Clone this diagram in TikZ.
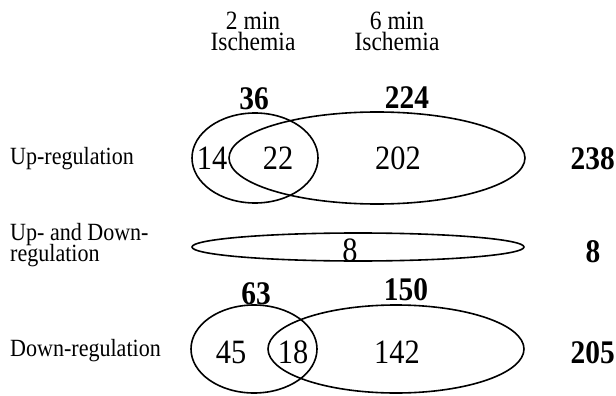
\documentclass[tikz,border=0pt]{standalone}
\usepackage{fontspec}
\setmainfont{Liberation Serif}
\newcommand{\tallt}[1]{\scalebox{0.98}[1.1]{#1}}
\begin{document}
\begin{tikzpicture}[x=1pt,y=-1pt,
  venn/.style={draw=black, line width=1.6pt},
  lbl/.style={font=\fontsize{22.5}{17}\selectfont, inner sep=0pt},
  hdr/.style={font=\fontsize{24}{19}\selectfont, inner sep=0pt},
  num/.style={font=\fontsize{31}{30}\selectfont, inner sep=0pt},
  bnum/.style={font=\fontsize{30}{30}\selectfont\bfseries, inner sep=0pt}]
\useasboundingbox (0,0) rectangle (616,396);
% headers
\node[hdr, anchor=base] (h2a) at (253,30) {\tallt{2 min}};
\node[hdr, anchor=base] (h2b) at (253,51) {\tallt{Ischemia}};
\node[hdr, anchor=base] (h6a) at (397,30) {\tallt{6 min}};
\node[hdr, anchor=base] (h6b) at (397,51) {\tallt{Ischemia}};
% row labels
\node[lbl, anchor=base west] (lup) at (10,164) {\tallt{Up-regulation}};
\node[lbl, anchor=base west] (lud1) at (10,240) {\tallt{Up- and Down-}};
\node[lbl, anchor=base west] (lud2) at (10,261) {\tallt{regulation}};
\node[lbl, anchor=base west] (ldn) at (10,356) {\tallt{Down-regulation}};
% up row
\draw[venn] (255,158) ellipse [x radius=63, y radius=45];
\draw[venn] (377,158) ellipse [x radius=148, y radius=46];
\node[bnum, anchor=base] (n36) at (254,110) {\tallt{36}};
\node[bnum, anchor=base] (n224) at (407,108) {\tallt{224}};
\node[num, anchor=base] (n14) at (212,169) {\tallt{14}};
\node[num, anchor=base] (n22) at (278,169) {\tallt{22}};
\node[num, anchor=base] (n202) at (398,169) {\tallt{202}};
\node[bnum, anchor=base east] (n238) at (615,169) {\tallt{238}};
% middle row
\draw[venn] (358,247) ellipse [x radius=166, y radius=14];
\node[num, anchor=base] (n8) at (350,261) {\tallt{8}};
\node[bnum, anchor=base] (n8r) at (593,262) {\tallt{8}};
% down row
\draw[venn] (254,349) ellipse [x radius=63, y radius=44];
\draw[venn] (396,349) ellipse [x radius=128, y radius=44];
\node[bnum, anchor=base] (n63) at (256,304) {\tallt{63}};
\node[bnum, anchor=base] (n150) at (406,300) {\tallt{150}};
\node[num, anchor=base] (n45) at (231,363) {\tallt{45}};
\node[num, anchor=base] (n18) at (293,363) {\tallt{18}};
\node[num, anchor=base] (n142) at (397,363) {\tallt{142}};
\node[bnum, anchor=base east] (n205) at (615,363) {\tallt{205}};
\end{tikzpicture}
\end{document}
